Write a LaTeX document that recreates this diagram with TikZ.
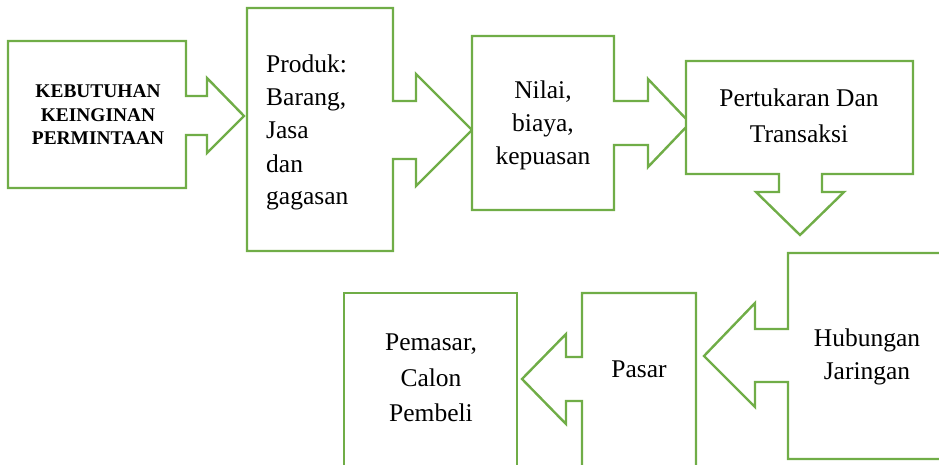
\documentclass[tikz,border=0pt]{standalone}
\usepackage{fontspec}
\setmainfont{Liberation Serif}
\definecolor{offgreen}{HTML}{70AD47}
\begin{document}
\begin{tikzpicture}[x=1pt,y=-1pt,
  shapebox/.style={draw=offgreen,line width=2.4pt,fill=white,line join=miter},
  txt/.style={inner sep=0pt,font=\fontsize{25.5}{30}\selectfont,anchor=base},
  txtl/.style={txt,anchor=base west},
  bold/.style={inner sep=0pt,font=\fontsize{19.4}{24}\selectfont\bfseries,anchor=base}]
\useasboundingbox (0,0) rectangle (939,464);
\clip (0,0) rectangle (939,464);
% shape 1
\draw[shapebox] (8,41) -- (186,41) -- (186,96) -- (207,96) -- (207,78) -- (244,116) -- (207,153) -- (207,135) -- (186,135) -- (186,188) -- (8,188) -- cycle;
% shape 2
\draw[shapebox] (247,8) -- (393,8) -- (393,101) -- (416,101) -- (416,74) -- (472,130) -- (416,186) -- (416,159) -- (393,159) -- (393,251) -- (247,251) -- cycle;
% shape 3
\draw[shapebox] (472,36) -- (614,36) -- (614,101) -- (648,101) -- (648,79) -- (690,123) -- (648,167) -- (648,145) -- (614,145) -- (614,210) -- (472,210) -- cycle;
% shape 4
\draw[shapebox] (686,61) -- (913,61) -- (913,174) -- (822,174) -- (822,192) -- (844,192) -- (800,235) -- (756,192) -- (779,192) -- (779,174) -- (686,174) -- cycle;
% shape 5
\draw[shapebox] (960,253) -- (788,253) -- (788,329) -- (755,329) -- (755,303) -- (704,356) -- (755,407) -- (755,382) -- (788,382) -- (788,459) -- (960,459);
% shape 6
\draw[shapebox] (582,480) -- (582,401) -- (566,401) -- (566,424) -- (522,379) -- (566,334) -- (566,357) -- (582,357) -- (582,293) -- (696,293) -- (696,480);
% shape 7
\draw[shapebox] (344,480) -- (344,293) -- (517,293) -- (517,480);
% texts
\node[bold] (k1) at (98,97) {KEBUTUHAN};
\node[bold] (k2) at (98,121) {KEINGINAN};
\node[bold] (k3) at (98,144) {PERMINTAAN};
\node[txtl] (p1) at (266,72) {Produk:};
\node[txtl] (p2) at (266,105) {Barang,};
\node[txtl] (p3) at (266,138) {Jasa};
\node[txtl] (p4) at (266,172) {dan};
\node[txtl] (p5) at (266,204) {gagasan};
\node[txt] (n1) at (543,98) {Nilai,};
\node[txt] (n2) at (543,131) {biaya,};
\node[txt] (n3) at (543,164) {kepuasan};
\node[txt] (t1) at (799,106) {Pertukaran Dan};
\node[txt] (t2) at (799,142) {Transaksi};
\node[txt] (h1) at (867,346) {Hubungan};
\node[txt] (h2) at (867,379) {Jaringan};
\node[txt] (ps) at (639,377) {Pasar};
\node[txt] (m1) at (431,350) {Pemasar,};
\node[txt] (m2) at (431,386) {Calon};
\node[txt] (m3) at (431,421) {Pembeli};
\end{tikzpicture}
\end{document}
